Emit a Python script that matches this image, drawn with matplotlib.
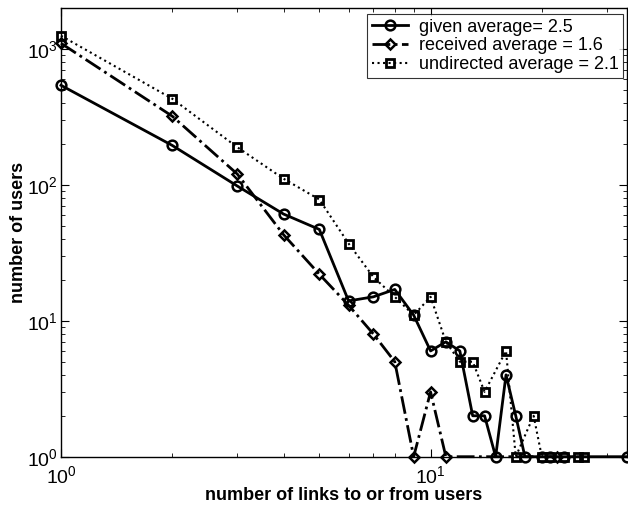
import matplotlib
matplotlib.use("Agg")
import matplotlib.pyplot as plt

plt.rcParams['font.family'] = ['Liberation Sans', 'DejaVu Sans']
plt.rcParams['mathtext.fontset'] = 'custom'
plt.rcParams['mathtext.rm'] = 'Liberation Sans'
plt.rcParams['mathtext.it'] = 'Liberation Sans'

# degree distributions
given_x = [1, 2, 3, 4, 5, 6, 7, 8, 9, 10, 11, 12, 13, 14, 15, 16, 17, 18, 20, 21, 23, 34]
given_y = [540, 195, 98, 61, 47, 14, 15, 17, 11, 6, 7, 6, 2, 2, 1, 4, 2, 1, 1, 1, 1, 1]

received_x = [1, 2, 3, 4, 5, 6, 7, 8, 9, 10, 11, 22]
received_y = [1100, 320, 120, 43, 22, 13, 8, 5, 1, 3, 1, 1]

undirected_x = [1, 2, 3, 4, 5, 6, 7, 8, 9, 10, 11, 12, 13, 14, 16, 17, 19, 20, 21, 23, 25, 26]
undirected_y = [1250, 430, 189, 111, 78, 37, 21, 15, 11, 15, 7, 5, 5, 3, 6, 1, 2, 1, 1, 1, 1, 1]

fig = plt.figure(figsize=(6.28, 5.05), dpi=100)
ax = fig.add_axes([61 / 628, 1 - 456.7 / 505, 566 / 628, (456.7 - 8) / 505])

ax.loglog(given_x, given_y, '-', color='black', lw=2, marker='o', ms=7,
          mfc='none', mew=1.8, label='given average= 2.5', clip_on=False)
ax.loglog(received_x, received_y, '-.', color='black', lw=2, marker='D', ms=5.5,
          mfc='none', mew=1.8, label='received average = 1.6', clip_on=False)
ax.loglog(undirected_x, undirected_y, ':', color='black', lw=1.5, marker='s', ms=6,
          mfc='none', mew=2, label='undirected average = 2.1', clip_on=False)

ax.set_xlim(1, 34)
ax.set_ylim(1, 2000)

ax.tick_params(which='both', direction='in', top=True, right=True, labelsize=14)
ax.tick_params(which='major', length=6)
ax.tick_params(which='minor', length=3)
ax.tick_params(axis='x', pad=6)
ax.tick_params(axis='y', pad=2)
for s in ax.spines.values():
    s.set_linewidth(1)

ax.set_xlabel('number of links to or from users', fontsize=13, fontweight='bold', labelpad=0)
ax.set_ylabel('number of users', fontsize=13, fontweight='bold', labelpad=0)

leg = ax.legend(loc='upper right', bbox_to_anchor=(0.993, 0.9866), borderaxespad=0,
                fontsize=13, frameon=True, fancybox=False, edgecolor='black',
                handlelength=2.0, borderpad=0.25, labelspacing=0.1, handletextpad=0.6)
leg.get_frame().set_linewidth(0.8)

fig.savefig('out.png', dpi=100)
